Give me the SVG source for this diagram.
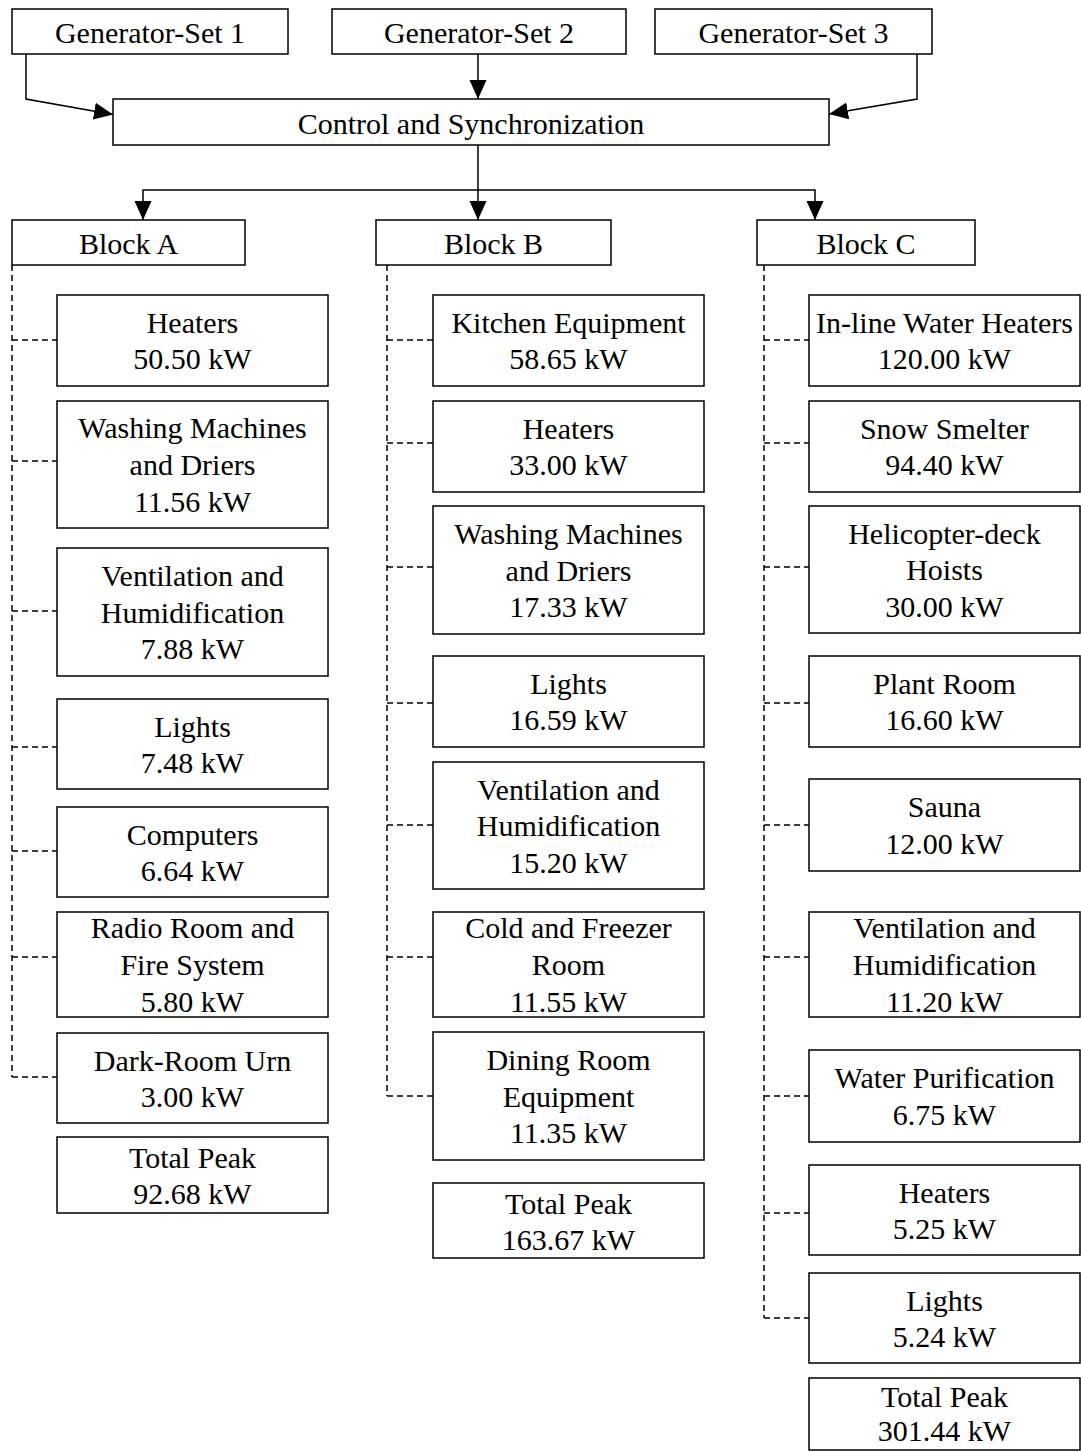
<svg xmlns="http://www.w3.org/2000/svg" width="1081" height="1452" viewBox="0 0 1081 1452">
<style>
rect{fill:#fff;stroke:#000;stroke-width:1.5}
text{font-family:"Liberation Serif","Times New Roman",serif;font-size:30px;fill:#000;text-anchor:middle}
.c{fill:none;stroke:#000;stroke-width:1.5}
.d{fill:none;stroke:#000;stroke-width:1.5;stroke-dasharray:6 4}
</style>
<defs>
<marker id="ah" markerUnits="userSpaceOnUse" markerWidth="20" markerHeight="18" refX="19" refY="8.5" orient="auto">
<path d="M0,0 L19,8.5 L0,17 z" fill="#000"/>
</marker>
</defs>
<rect x="0" y="0" width="1081" height="1452" style="stroke:none"/>
<g id="connectors">
<polyline class="c" points="26,54 26,99 113,114.5" marker-end="url(#ah)"/>
<line class="c" x1="478" y1="54" x2="478" y2="99" marker-end="url(#ah)"/>
<polyline class="c" points="917,54 917,99 829,114" marker-end="url(#ah)"/>
<line class="c" x1="478" y1="145" x2="478" y2="220" marker-end="url(#ah)"/>
<polyline class="c" points="478,190 143,190 143,220" marker-end="url(#ah)"/>
<polyline class="c" points="478,190 815,190 815,220" marker-end="url(#ah)"/>
<path class="d" d="M12,265 V1077 M12,340 H57 M12,461 H57 M12,611 H57 M12,747 H57 M12,851 H57 M12,957 H57 M12,1077 H57"/>
<path class="d" d="M387,265 V1096 M387,340 H433 M387,443 H433 M387,567 H433 M387,703 H433 M387,825 H433 M387,957 H433 M387,1096 H433"/>
<path class="d" d="M764,265 V1318 M764,340 H809 M764,443 H809 M764,567 H809 M764,703 H809 M764,825 H809 M764,957 H809 M764,1096 H809 M764,1213 H809 M764,1318 H809"/>
</g>
<g id="gen1"><rect x="12" y="9" width="276" height="45"/><text x="150" y="43">Generator-Set 1</text></g>
<g id="gen2"><rect x="332" y="9" width="294" height="45"/><text x="479" y="43">Generator-Set 2</text></g>
<g id="gen3"><rect x="655" y="9" width="277" height="45"/><text x="793.5" y="43">Generator-Set 3</text></g>
<g id="control"><rect x="113" y="99" width="716" height="46"/><text x="471" y="134">Control and Synchronization</text></g>
<g id="blockA"><rect x="12" y="220" width="233" height="45"/><text x="128.5" y="254">Block A</text></g>
<g id="blockB"><rect x="376" y="220" width="235" height="45"/><text x="493.5" y="254">Block B</text></g>
<g id="blockC"><rect x="757" y="220" width="218" height="45"/><text x="866" y="254">Block C</text></g>

<g id="a1"><rect x="57" y="295" width="271" height="91"/><text x="192.5" y="333">Heaters</text><text x="192.5" y="369">50.50 kW</text></g>
<g id="a2"><rect x="57" y="401" width="271" height="127"/><text x="192.5" y="438">Washing Machines</text><text x="192.5" y="475">and Driers</text><text x="192.5" y="511.5">11.56 kW</text></g>
<g id="a3"><rect x="57" y="548" width="271" height="128"/><text x="192.5" y="586">Ventilation and</text><text x="192.5" y="622.5">Humidification</text><text x="192.5" y="659">7.88 kW</text></g>
<g id="a4"><rect x="57" y="699" width="271" height="90"/><text x="192.5" y="736.5">Lights</text><text x="192.5" y="772.5">7.48 kW</text></g>
<g id="a5"><rect x="57" y="807" width="271" height="90"/><text x="192.5" y="844.5">Computers</text><text x="192.5" y="880.5">6.64 kW</text></g>
<g id="a6"><rect x="57" y="912" width="271" height="105"/><text x="192.5" y="938">Radio Room and</text><text x="192.5" y="975">Fire System</text><text x="192.5" y="1011.5">5.80 kW</text></g>
<g id="a7"><rect x="57" y="1033" width="271" height="90"/><text x="192.5" y="1070.5">Dark-Room Urn</text><text x="192.5" y="1106.5">3.00 kW</text></g>
<g id="a8"><rect x="57" y="1137" width="271" height="76"/><text x="192.5" y="1168">Total Peak</text><text x="192.5" y="1203.5">92.68 kW</text></g>

<g id="b1"><rect x="433" y="295" width="271" height="91"/><text x="568.5" y="333">Kitchen Equipment</text><text x="568.5" y="369">58.65 kW</text></g>
<g id="b2"><rect x="433" y="401" width="271" height="91"/><text x="568.5" y="439">Heaters</text><text x="568.5" y="475">33.00 kW</text></g>
<g id="b3"><rect x="433" y="506" width="271" height="128"/><text x="568.5" y="544">Washing Machines</text><text x="568.5" y="580.5">and Driers</text><text x="568.5" y="617">17.33 kW</text></g>
<g id="b4"><rect x="433" y="656" width="271" height="91"/><text x="568.5" y="694">Lights</text><text x="568.5" y="730">16.59 kW</text></g>
<g id="b5"><rect x="433" y="762" width="271" height="127"/><text x="568.5" y="799.5">Ventilation and</text><text x="568.5" y="836">Humidification</text><text x="568.5" y="872.5">15.20 kW</text></g>
<g id="b6"><rect x="433" y="912" width="271" height="105"/><text x="568.5" y="938">Cold and Freezer</text><text x="568.5" y="975">Room</text><text x="568.5" y="1011.5">11.55 kW</text></g>
<g id="b7"><rect x="433" y="1032" width="271" height="128"/><text x="568.5" y="1070">Dining Room</text><text x="568.5" y="1106.5">Equipment</text><text x="568.5" y="1143">11.35 kW</text></g>
<g id="b8"><rect x="433" y="1183" width="271" height="75"/><text x="568.5" y="1214">Total Peak</text><text x="568.5" y="1249.5">163.67 kW</text></g>

<g id="c1"><rect x="809" y="295" width="271" height="91"/><text x="944.5" y="333">In-line Water Heaters</text><text x="944.5" y="369">120.00 kW</text></g>
<g id="c2"><rect x="809" y="401" width="271" height="91"/><text x="944.5" y="439">Snow Smelter</text><text x="944.5" y="475">94.40 kW</text></g>
<g id="c3"><rect x="809" y="506" width="271" height="127"/><text x="944.5" y="543.5">Helicopter-deck</text><text x="944.5" y="580">Hoists</text><text x="944.5" y="616.5">30.00 kW</text></g>
<g id="c4"><rect x="809" y="656" width="271" height="91"/><text x="944.5" y="694">Plant Room</text><text x="944.5" y="730">16.60 kW</text></g>
<g id="c5"><rect x="809" y="779" width="271" height="92"/><text x="944.5" y="817">Sauna</text><text x="944.5" y="853.5">12.00 kW</text></g>
<g id="c6"><rect x="809" y="912" width="271" height="105"/><text x="944.5" y="938">Ventilation and</text><text x="944.5" y="975">Humidification</text><text x="944.5" y="1011.5">11.20 kW</text></g>
<g id="c7"><rect x="809" y="1050" width="271" height="92"/><text x="944.5" y="1088">Water Purification</text><text x="944.5" y="1124.5">6.75 kW</text></g>
<g id="c8"><rect x="809" y="1165" width="271" height="90"/><text x="944.5" y="1202.5">Heaters</text><text x="944.5" y="1238.5">5.25 kW</text></g>
<g id="c9"><rect x="809" y="1273" width="271" height="90"/><text x="944.5" y="1310.5">Lights</text><text x="944.5" y="1346.5">5.24 kW</text></g>
<g id="c10"><rect x="809" y="1378" width="271" height="72"/><text x="944.5" y="1407">Total Peak</text><text x="944.5" y="1441">301.44 kW</text></g>
</svg>
